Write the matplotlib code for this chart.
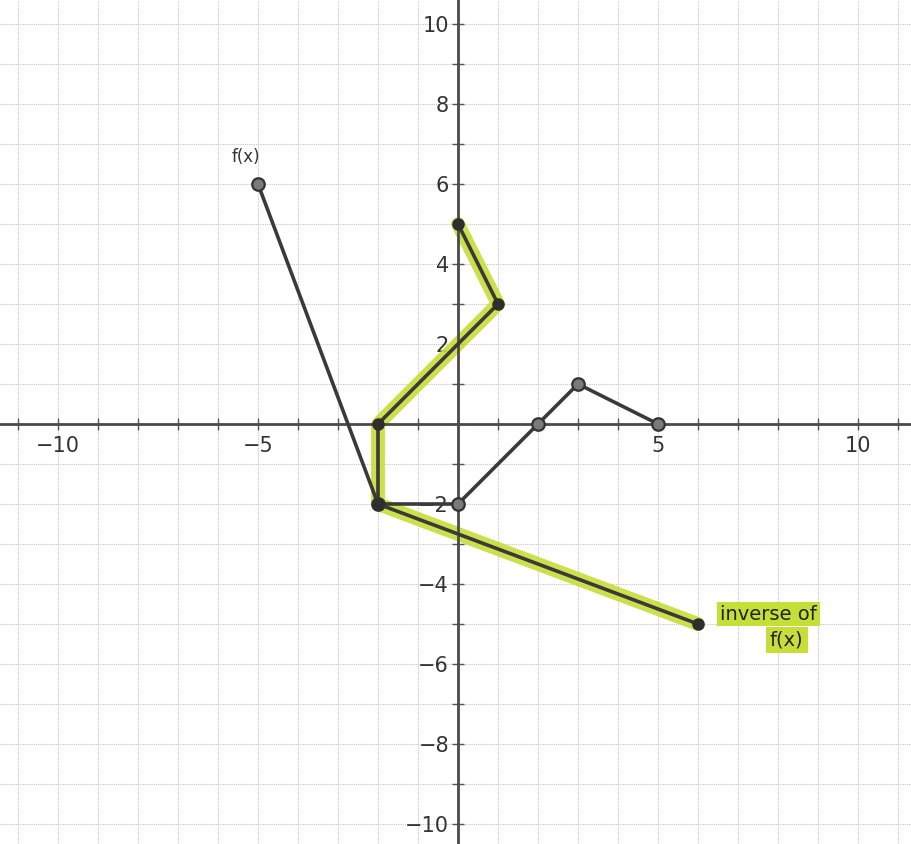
import numpy as np
import matplotlib.pyplot as plt

# f(x) and its inverse, as piecewise-linear point lists
fx_x = [-5, -2, 0, 2, 3, 5]
fx_y = [6, -2, -2, 0, 1, 0]
inv_x = [6, -2, -2, 0, 1, 0]
inv_y = [-5, -2, 0, 2, 3, 5]

x_labels = [-10, -5, 5, 10]
y_labels = [-10, -8, -6, -4, -2, 2, 4, 6, 8, 10]

green = '#c6de38'
ink = '#3a3a3a'

fig = plt.figure(figsize=(9.12, 8.44), dpi=100)
ax = fig.add_axes([0, 0, 1, 1])
ax.set_xlim(-11.45, 11.35)
ax.set_ylim(-10.5, 10.6)

# graph-paper grid, one line per unit
for v in np.arange(-11, 12):
    ax.axvline(v, color='#c4c4c4', lw=0.8, ls=(0, (1, 1)), zorder=0)
for v in np.arange(-10, 11):
    ax.axhline(v, color='#c4c4c4', lw=0.8, ls=(0, (1, 1)), zorder=0)

for s in ['top', 'right']:
    ax.spines[s].set_visible(False)
ax.spines['left'].set_position(('data', 0))
ax.spines['bottom'].set_position(('data', 0))
for s in ['left', 'bottom']:
    ax.spines[s].set_color('#4a4a4a')
    ax.spines[s].set_linewidth(2)

ax.set_xticks(x_labels)
ax.set_yticks(y_labels)
ax.set_xticks(np.arange(-11, 12), minor=True)
ax.set_yticks(np.arange(-10, 11), minor=True)
ax.tick_params(which='both', direction='inout', length=9, width=1, color='#555555')
ax.tick_params(axis='x', labelsize=15, pad=4, labelcolor='#333333')
ax.tick_params(axis='y', labelsize=15, pad=2, labelcolor='#333333')
ax.set_xticklabels([str(v).replace('-', '\u2212') for v in x_labels])
ax.set_yticklabels([str(v).replace('-', '\u2212') for v in y_labels])

# highlighter stroke under the inverse; (0, 2) lies on a straight run, no dot there
ax.plot(inv_x, inv_y, color=green, lw=10, solid_capstyle='round', alpha=0.9, zorder=2)
ax.plot(inv_x, inv_y, color=ink, lw=2.6, marker='o', ms=8, mfc='#2e2e2e', mec='#2e2e2e',
        markevery=[0, 1, 2, 4, 5], zorder=5)

ax.plot(fx_x, fx_y, color=ink, lw=2.6, marker='o', ms=9, mfc='#7a7a7a', mec='#333333', mew=1.6, zorder=4)

ax.text(-5.3, 6.45, 'f(x)', fontsize=12, color='#333333', ha='center', va='bottom')
ax.text(6.55, -4.75, 'inverse of', fontsize=14, color='#222222', ha='left', va='center',
        bbox=dict(boxstyle='square,pad=0.15', fc=green, ec='none'))
ax.text(7.8, -5.4, 'f(x)', fontsize=14, color='#222222', ha='left', va='center',
        bbox=dict(boxstyle='square,pad=0.2', fc=green, ec='none'))

fig.savefig('out.png', dpi=100)
